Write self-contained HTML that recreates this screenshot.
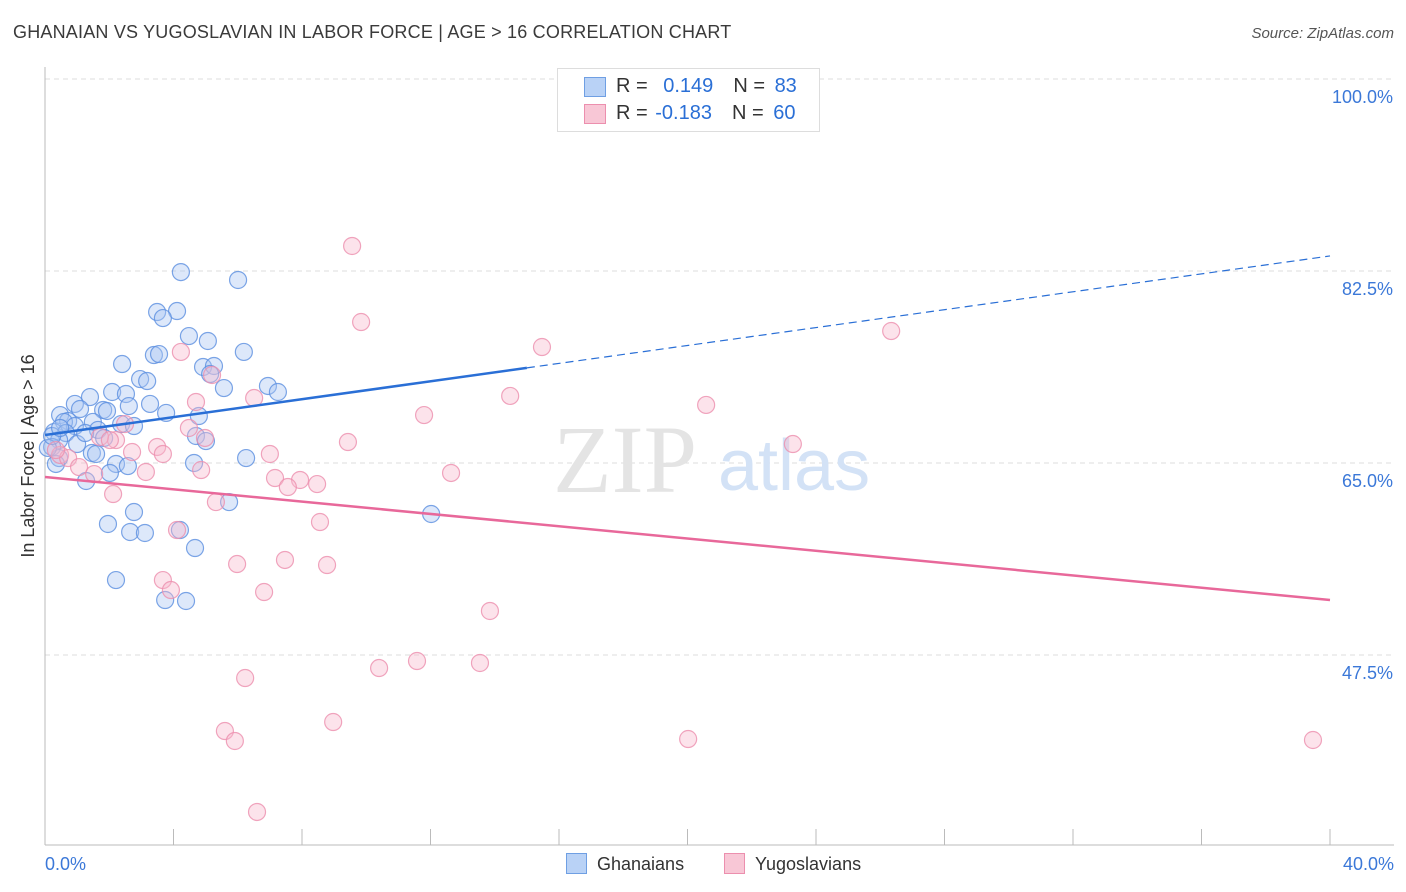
<!DOCTYPE html>
<html><head><meta charset="utf-8"><style>
body{margin:0;background:#fff;font-family:"Liberation Sans",sans-serif;}
#wrap{position:relative;width:1406px;height:892px;overflow:hidden;}
.t{position:absolute;white-space:nowrap;}
</style></head><body>
<div id="wrap">
<div class="t" style="left:13px;top:22px;font-size:18px;color:#3a3a3a;letter-spacing:0.2px">GHANAIAN VS YUGOSLAVIAN IN LABOR FORCE | AGE &gt; 16 CORRELATION CHART</div>
<div class="t" style="right:12px;top:25px;font-size:15px;color:#555;font-style:italic">Source: ZipAtlas.com</div>
<svg id="svg" width="1406" height="892" style="position:absolute;left:0;top:0"></svg>
</div>
<script>
const yTicks=[100,82.5,65,47.5];
const yTickLabels=["100.0%","82.5%","65.0%","47.5%"];
const xTickLabels=["0.0%","40.0%"];
const ghanaX=[4.23,6.01,3.49,4.11,3.67,4.48,5.07,3.39,3.55,6.19,2.40,4.92,5.26,5.14,2.96,3.18,5.57,6.94,7.25,2.09,2.52,1.40,3.27,2.61,0.93,1.09,1.81,1.93,3.77,4.79,0.47,0.72,0.59,1.49,2.37,2.77,0.93,1.65,0.28,0.65,4.70,5.01,1.84,0.44,1.00,0.22,1.46,1.59,0.44,6.26,4.64,2.21,2.58,0.34,2.02,1.28,5.73,12.02,2.77,1.96,2.65,3.11,4.67,4.20,2.21,3.74,4.39,0.09,0.22,0.47,1.25];
const ghanaY=[82.4,81.68,78.76,78.85,78.21,76.57,76.12,74.84,74.93,75.12,74.02,73.75,73.84,73.11,72.65,72.47,71.83,72.02,71.47,71.47,71.29,71.01,70.38,70.19,70.38,69.92,69.83,69.74,69.56,69.28,69.37,68.83,68.74,68.74,68.55,68.37,68.37,68.01,67.82,67.73,67.46,67.0,67.28,67.09,66.73,66.46,65.91,65.82,65.45,65.45,65.0,64.91,64.72,64.91,64.09,63.36,61.44,60.35,60.53,59.44,58.71,58.62,57.25,58.89,54.33,52.51,52.42,66.37,67.46,68.19,67.73];
const yugoX=[9.56,9.84,26.34,15.47,4.23,5.20,14.48,4.70,6.51,11.80,20.58,2.49,4.48,9.43,23.28,4.98,7.00,3.49,2.71,3.67,2.21,1.71,0.47,0.72,1.06,3.14,4.86,7.16,7.94,7.56,8.47,12.64,1.53,2.12,5.32,8.56,4.11,5.98,7.47,8.78,3.67,3.92,6.82,13.85,10.40,11.58,13.54,6.23,8.97,5.60,5.91,20.02,39.47,6.60,2.02,0.34];
const yugoY=[84.78,77.85,77.03,75.57,75.12,73.02,71.11,70.56,70.92,69.37,70.29,68.55,68.19,66.91,66.73,67.28,65.82,66.46,66.0,65.82,67.09,67.37,65.73,65.45,64.63,64.18,64.36,63.63,63.45,62.81,63.08,64.09,63.99,62.17,61.44,59.62,58.89,55.79,56.16,55.7,54.33,53.42,53.24,51.51,46.31,46.95,46.77,45.4,41.39,40.57,39.66,39.84,39.75,33.19,67.09,66.18];
const ghanaTrend=[67.55,83.87];
const yugoTrend=[63.72,52.51];

const NS="http://www.w3.org/2000/svg";
const svg=document.getElementById('svg');
const X=v=>45+v/40*1285;
const Y=v=>79+(100-v)*10.971;
function mk(tag,attrs,parent){const e=document.createElementNS(NS,tag);for(const k in attrs)e.setAttribute(k,attrs[k]);(parent||svg).appendChild(e);return e;}

// gridlines
yTicks.forEach((t,i)=>{
  const g=mk('line',{x1:45,x2:1394,y1:Y(t),y2:Y(t),stroke:'#ddd','stroke-dasharray':'5,4'});
  
  
  const tx=mk('text',{x:1393,y:Y(t)+24,'text-anchor':'end','font-size':18,fill:'#3b78d8','font-family':'Liberation Sans, sans-serif'});
  tx.textContent=yTickLabels[i];
  
  
});
// axes
const ya=mk('line',{x1:45,x2:45,y1:67,y2:845,stroke:'#bbb'});


const xa=mk('line',{x1:45,x2:1394,y1:845,y2:845,stroke:'#bbb'});


for(let i=0;i<=10;i++){
  const tk=mk('line',{x1:X(i*4),x2:X(i*4),y1:829,y2:845,stroke:'#bbb'});
  
  
}
[[0,'start',45],[1,'end',1394]].forEach(([i,a,x])=>{
  const tx=mk('text',{x:x,y:870,'text-anchor':a,'font-size':18,fill:'#3b78d8','font-family':'Liberation Sans, sans-serif'});
  tx.textContent=xTickLabels[i];
  
  
});
// y title
const yt=mk('text',{x:0,y:0,transform:'translate(34,456) rotate(-90)','text-anchor':'middle','font-size':18,fill:'#333','font-family':'Liberation Sans, sans-serif'});
yt.textContent='In Labor Force | Age > 16';


// watermark
const wm=mk('text',{x:553,y:492,'font-size':96,fill:'#e4e4e4','font-family':'Liberation Serif, serif'});
wm.textContent='ZIP';


const wm2=mk('text',{x:718,y:490,'font-size':72,fill:'#d3e2f6','font-family':'Liberation Sans, sans-serif'});
wm2.textContent='atlas';


// points
function pts(xs,ys,fill,stroke,name){
  xs.forEach((v,i)=>{
    const c=mk('circle',{cx:X(v),cy:Y(ys[i]),r:8.5,fill:fill,'fill-opacity':0.4,stroke:stroke,'stroke-width':1.2,'stroke-opacity':0.8});
    
    
  });
}
pts(ghanaX,ghanaY,'#a9c6f2','#5b8fe0','ghanaian-point');
pts(yugoX,yugoY,'#f7b9cc','#ec8fae','yugoslavian-point');
// trends
const bEnd=15.0;
const bYe=ghanaTrend[0]+(ghanaTrend[1]-ghanaTrend[0])*bEnd/40;
const bl=mk('line',{x1:X(0),y1:Y(ghanaTrend[0]),x2:X(bEnd),y2:Y(bYe),stroke:'#2a6fd6','stroke-width':2.5});


const bd=mk('line',{x1:X(bEnd),y1:Y(bYe),x2:X(40),y2:Y(ghanaTrend[1]),stroke:'#2a6fd6','stroke-width':1.2,'stroke-dasharray':'8,5'});


const pl=mk('line',{x1:X(0),y1:Y(yugoTrend[0]),x2:X(40),y2:Y(yugoTrend[1]),stroke:'#e8689a','stroke-width':2.5});


</script>
<div class="t" style="left:557px;top:68px;width:261px;height:62px;border:1px solid #ddd;background:#fff;font-size:20px;color:#333">
  <div style="position:absolute;left:26px;top:8px;width:20px;height:18px;background:#b9d2f6;border:1px solid #6f9fe3"></div>
  <div style="position:absolute;left:58px;top:6px">R = <span style="color:#2a6fd6;margin-left:10px">0.149</span><span style="margin-left:20px">N =</span> <span style="color:#2a6fd6;margin-left:4px">83</span></div>
  <div style="position:absolute;left:26px;top:35px;width:20px;height:18px;background:#f8c7d6;border:1px solid #ec8fae"></div>
  <div style="position:absolute;left:58px;top:33px">R = <span style="color:#2a6fd6;margin-left:2px">-0.183</span><span style="margin-left:20px">N =</span> <span style="color:#2a6fd6;margin-left:4px">60</span></div>
</div>
<div class="t" style="left:566px;top:853px;font-size:18px;color:#333"><span style="display:inline-block;width:19px;height:19px;background:#b9d2f6;border:1px solid #6f9fe3;vertical-align:-4px;margin-right:10px"></span>Ghanaians</div>
<div class="t" style="left:724px;top:853px;font-size:18px;color:#333"><span style="display:inline-block;width:19px;height:19px;background:#f8c7d6;border:1px solid #ec8fae;vertical-align:-4px;margin-right:10px"></span>Yugoslavians</div>
</body></html>
